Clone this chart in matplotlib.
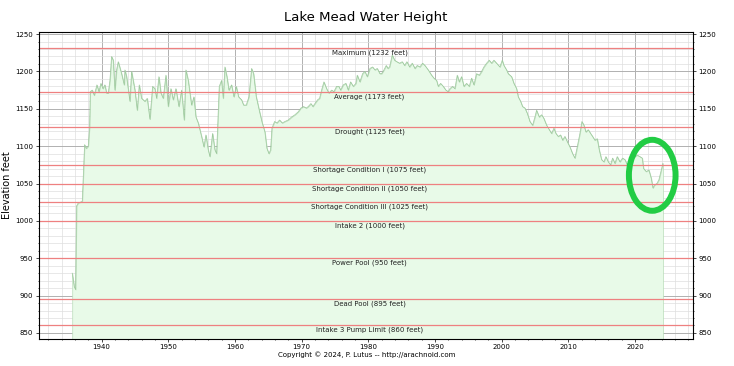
import matplotlib
matplotlib.use("Agg")
import matplotlib.pyplot as plt
from matplotlib.patches import Ellipse
from matplotlib.ticker import MultipleLocator

# Lake Mead elevation (year, feet)
years = [
    1935.6, 1935.9, 1936.1, 1936.25, 1936.5, 1937.1, 1937.45, 1937.7, 1938.0, 1938.2,
    1938.3, 1938.6, 1938.9, 1939.3, 1939.6, 1939.9, 1940.2, 1940.5, 1940.75, 1941.0,
    1941.25, 1941.5, 1941.75, 1942.0, 1942.25, 1942.5, 1943.0, 1943.4, 1943.5, 1943.75,
    1944.25, 1944.5, 1945.0, 1945.35, 1945.65, 1946.0, 1946.5, 1946.85, 1947.25, 1947.65,
    1948.0, 1948.25, 1948.6, 1948.9, 1949.25, 1949.65, 1950.0, 1950.4, 1950.75, 1951.15,
    1951.6, 1952.0, 1952.4, 1952.65, 1953.0, 1953.5, 1953.85, 1954.15, 1954.5, 1955.0,
    1955.35, 1955.65, 1956.0, 1956.25, 1956.65, 1957.0, 1957.25, 1957.65, 1958.0, 1958.25,
    1958.5, 1958.8, 1959.1, 1959.5, 1959.85, 1960.2, 1960.55, 1961.0, 1961.3, 1961.7,
    1962.1, 1962.5, 1962.8, 1963.2, 1963.7, 1964.1, 1964.5, 1964.8, 1965.1, 1965.35,
    1965.55, 1965.95, 1966.3, 1966.7, 1967.1, 1967.5, 1968.0, 1968.5, 1969.0, 1969.5,
    1969.9, 1970.3, 1970.7, 1971.0, 1971.4, 1971.7, 1972.0, 1972.4, 1972.7, 1973.0,
    1973.35, 1973.75, 1974.1, 1974.5, 1974.85, 1975.25, 1975.6, 1975.85, 1976.25, 1976.65,
    1977.0, 1977.35, 1977.75, 1978.15, 1978.35, 1978.75, 1979.15, 1979.5, 1979.85, 1980.25,
    1980.65, 1981.0, 1981.35, 1981.75, 1982.0, 1982.35, 1982.7, 1982.95, 1983.2, 1983.6,
    1983.95, 1984.3, 1984.7, 1985.1, 1985.45, 1985.8, 1986.2, 1986.6, 1987.0, 1987.35,
    1987.75, 1988.15, 1988.5, 1989.0, 1989.5, 1989.85, 1990.25, 1990.5, 1990.85, 1991.25,
    1991.65, 1992.0, 1992.25, 1992.65, 1993.0, 1993.35, 1993.65, 1994.0, 1994.35, 1994.75,
    1995.15, 1995.5, 1995.85, 1996.25, 1996.65, 1997.0, 1997.35, 1997.75, 1998.15, 1998.5,
    1998.85, 1999.25, 1999.75, 2000.1, 2000.35, 2000.75, 2001.0, 2001.5, 2001.85, 2002.25,
    2002.5, 2002.85, 2003.15, 2003.5, 2003.85, 2004.25, 2004.65, 2005.0, 2005.25, 2005.65,
    2006.0, 2006.35, 2006.75, 2007.15, 2007.5, 2007.85, 2008.15, 2008.5, 2008.85, 2009.15,
    2009.5, 2009.85, 2010.25, 2010.65, 2011.0, 2011.35, 2011.75, 2012.05, 2012.35, 2012.65,
    2013.0, 2013.35, 2013.65, 2014.0, 2014.35, 2014.65, 2015.0, 2015.35, 2015.65, 2016.0,
    2016.35, 2016.65, 2017.0, 2017.35, 2017.75, 2018.15, 2018.5, 2018.85, 2019.25, 2019.65,
    2020.0, 2020.35, 2020.75, 2021.1, 2021.3, 2021.7, 2022.1, 2022.45, 2022.7, 2022.95,
    2023.3, 2023.6, 2023.95, 2024.2,
]
elevation = [
    930, 912, 908, 1020, 1024, 1026, 1102, 1097, 1100, 1126,
    1173, 1175, 1168, 1182, 1173, 1184, 1177, 1182, 1171, 1171,
    1188, 1220, 1215, 1175, 1202, 1213, 1197, 1182, 1202, 1193,
    1160, 1200, 1175, 1148, 1182, 1164, 1160, 1164, 1136, 1180,
    1177, 1164, 1193, 1171, 1164, 1195, 1153, 1177, 1162, 1177,
    1153, 1175, 1135, 1202, 1188, 1155, 1166, 1139, 1131, 1113,
    1099, 1115, 1095, 1086, 1117, 1095, 1090, 1180, 1188, 1164,
    1206, 1193, 1175, 1182, 1166, 1180, 1166, 1162, 1155, 1155,
    1166, 1204, 1197, 1166, 1146, 1131, 1119, 1097, 1090, 1095,
    1124, 1133, 1131, 1135, 1131, 1133, 1135, 1139, 1142, 1146,
    1151, 1153, 1151, 1153, 1157, 1153, 1157, 1162, 1164, 1175,
    1186, 1177, 1171, 1175, 1173, 1180, 1180, 1175, 1182, 1184,
    1175, 1186, 1180, 1184, 1195, 1186, 1197, 1200, 1193, 1204,
    1206, 1202, 1204, 1197, 1197, 1202, 1208, 1204, 1206, 1222,
    1215, 1213, 1211, 1213, 1208, 1213, 1206, 1211, 1204, 1208,
    1206, 1211, 1208, 1202, 1195, 1191, 1188, 1180, 1184, 1180,
    1175, 1173, 1177, 1180, 1177, 1195, 1186, 1193, 1180, 1184,
    1180, 1191, 1182, 1197, 1195, 1200, 1206, 1211, 1215, 1211,
    1215, 1211, 1206, 1215, 1208, 1202, 1197, 1193, 1184, 1177,
    1166, 1160, 1153, 1151, 1144, 1133, 1128, 1139, 1148, 1139,
    1142, 1137, 1128, 1122, 1117, 1124, 1117, 1113, 1115, 1108,
    1113, 1106, 1099, 1090, 1084, 1099, 1117, 1133, 1128, 1119,
    1122, 1117, 1113, 1108, 1110, 1095, 1082, 1079, 1086, 1079,
    1075, 1084, 1077, 1086, 1079, 1084, 1082, 1075, 1082, 1088,
    1086, 1088, 1086, 1084, 1070, 1066, 1068, 1057, 1044, 1048,
    1050, 1055, 1068, 1077,
]

level_names = ["Maximum", "Average", "Drought", "Shortage Condition I",
               "Shortage Condition II", "Shortage Condition III", "Intake 2",
               "Power Pool", "Dead Pool", "Intake 3 Pump Limit"]
level_values = [1232, 1173, 1125, 1075, 1050, 1025, 1000, 950, 895, 860]

ymin, ymax = 842, 1253

fig = plt.figure(figsize=(7.34, 3.66), dpi=100)
ax = fig.add_axes([0.053, 0.074, 0.891, 0.839])

ax.fill_between(years, elevation, ymin, facecolor="#e8fae8", edgecolor="#b8dcb8",
                linewidth=0.5, zorder=1)
ax.plot(years, elevation, color="#9cc89c", linewidth=0.5, zorder=2)

for name, val in zip(level_names, level_values):
    ax.axhline(val, color="#ee8080", linewidth=0.9, zorder=3)
    ax.text(1980.2, val - 2, f"{name} ({val} feet)", ha="center", va="top",
            fontsize=5, color="#222222", zorder=4)

# highlight of the recent low
ax.add_patch(Ellipse((2022.6, 1061), 7.0, 95, fill=False, edgecolor="#22cc44",
                     linewidth=4.3, zorder=5))

ax.set_xlim(1930.6, 2028.7)
ax.set_ylim(ymin, ymax)
ax.xaxis.set_major_locator(MultipleLocator(10))
ax.xaxis.set_minor_locator(MultipleLocator(2))
ax.yaxis.set_major_locator(MultipleLocator(50))
ax.yaxis.set_minor_locator(MultipleLocator(10))
ax.grid(which="major", color="#b0b0b0", linewidth=0.7, zorder=0)
ax.grid(which="minor", color="#dedede", linewidth=0.5, zorder=0)
ax.set_axisbelow(True)
ax.tick_params(which="both", labelsize=5, length=2, width=0.5, pad=2)
ax.tick_params(which="minor", length=1)
for s in ax.spines.values():
    s.set_linewidth(0.6)

ax2 = ax.twinx()
ax2.set_ylim(ymin, ymax)
ax2.yaxis.set_major_locator(MultipleLocator(50))
ax2.yaxis.set_minor_locator(MultipleLocator(10))
ax2.tick_params(which="both", labelsize=5, length=2, width=0.5, pad=2)
ax2.tick_params(which="minor", length=1)

ax.set_title("Lake Mead Water Height", fontsize=9.5, pad=8)
ax.set_ylabel("Elevation feet", fontsize=7)
ax.yaxis.set_label_coords(-0.041, 0.5)
fig.text(0.499, 0.031, "Copyright \u00a9 2024, P. Lutus -- http://arachnoid.com",
         ha="center", va="center", fontsize=5)

fig.savefig("out.png", dpi=100)
